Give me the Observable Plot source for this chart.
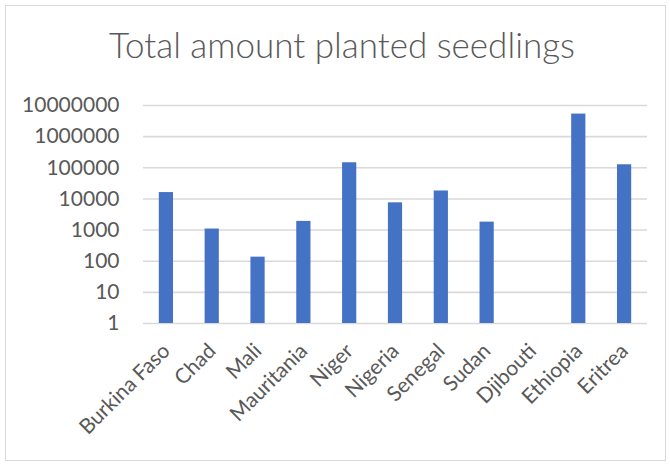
<!DOCTYPE html>
<html>
<head>
<meta charset="utf-8">
<script src="https://cdn.jsdelivr.net/npm/d3@7"></script>
<script src="https://cdn.jsdelivr.net/npm/@observablehq/plot@0.6"></script>
<style>
  html, body { margin: 0; padding: 0; background: #fff; }
  #wrap { position: relative; width: 670px; height: 464px; overflow: hidden; }
  #frame { position: absolute; left: 5px; top: 5px; width: 661px; height: 456px; border: 1px solid #d9d9d9; box-sizing: border-box; }
  #title { position: absolute; left: 0; width: 684px; top: 23px; text-align: center;
           font-family: Lato, sans-serif; font-weight: 300; font-size: 35px; color: #595959; }
  #chart { position: absolute; left: 0; top: 0; }
</style>
</head>
<body>
<div id="wrap">
  <div id="frame"></div>
  <div id="title">Total amount planted seedlings</div>
  <div id="chart"></div>
</div>
<script>
const countries = ["Burkina Faso", "Chad", "Mali", "Mauritania", "Niger", "Nigeria", "Senegal", "Sudan", "Djibouti", "Ethiopia", "Eritrea"];
const seedlings = [16000, 1080, 135, 1900, 145000, 7500, 18000, 1800, 0, 5300000, 125000];
const yTicks = [1, 10, 100, 1000, 10000, 100000, 1000000, 10000000];

const data = countries.map((c, i) => ({country: c, value: seedlings[i]})).filter(d => d.value > 0);

const chart = Plot.plot({
  width: 670,
  height: 464,
  marginTop: 105,
  marginBottom: 141,
  marginLeft: 143,
  marginRight: 23,
  style: {fontFamily: "Lato, sans-serif", fontSize: "21px", color: "#595959", background: "transparent"},
  x: {domain: countries, paddingInner: 0.69, paddingOuter: 0.345, round: false, label: null},
  y: {type: "log", domain: [1, 10000000], label: null},
  marks: [
    Plot.ruleY(yTicks, {stroke: "#d9d9d9", strokeWidth: 1.6}),
    Plot.rectY(data, {x: "country", y1: 1, y2: "value", fill: "#4472C4"}),
    Plot.axisY({ticks: yTicks, tickFormat: d => String(d), tickSize: 0, tickPadding: 24, fontSize: 21, fill: "#595959"}),
    Plot.axisX({tickSize: 0, tickRotate: -45, tickPadding: 24, fontSize: 21, fill: "#595959"})
  ]
});
document.getElementById("chart").appendChild(chart);
</script>
</body>
</html>
